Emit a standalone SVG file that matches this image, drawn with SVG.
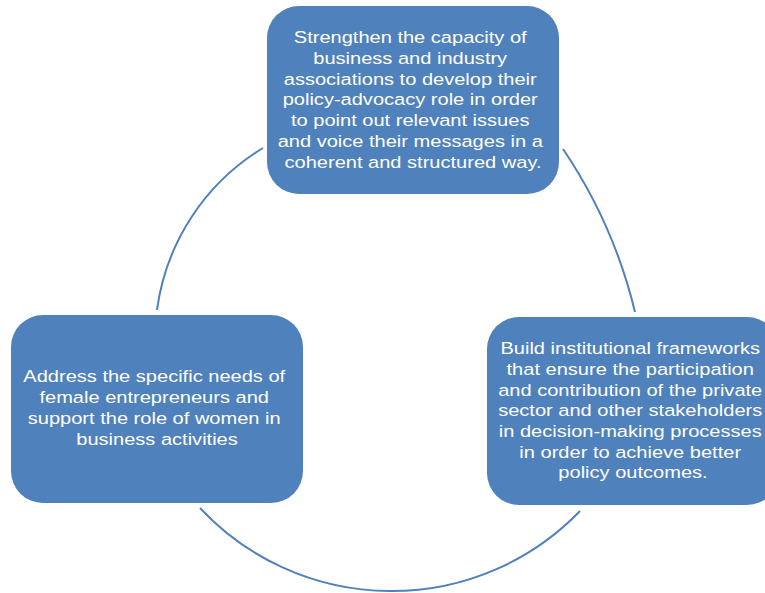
<svg xmlns="http://www.w3.org/2000/svg" width="765" height="593" viewBox="0 0 765 593">
  <style>
    .box { fill: #4F81BD; }
    .arc { fill: none; stroke: #4F81BD; stroke-width: 2; }
    .lbl { font-family: "Liberation Sans", Arial, sans-serif; font-size: 17px; fill: #FFFFFF; text-anchor: middle; }
  </style>
  <rect width="765" height="593" fill="#FFFFFF"/>

  <!-- cycle connectors -->
  <g id="connectors">
    <path class="arc" d="M 563 149 A 500 500 0 0 1 635 312"/>
    <path class="arc" d="M 580 511 A 262 262 0 0 1 200 508"/>
    <path class="arc" d="M 157 310 A 224 224 0 0 1 263 148"/>
  </g>

  <!-- top step -->
  <g id="node-associations">
    <rect class="box" x="267" y="6" width="292" height="188" rx="32" ry="32"/>
    <text class="lbl" transform="matrix(1.18 0 0 1 413 0)">
      <tspan x="0" y="43.3">Strengthen the capacity of</tspan>
      <tspan x="0" y="64">business and industry</tspan>
      <tspan x="0" y="84.8">associations to develop their</tspan>
      <tspan x="0" y="105.5">policy-advocacy role in order</tspan>
      <tspan x="0" y="126.2">to point out relevant issues</tspan>
      <tspan x="0" y="147">and voice their messages in a</tspan>
      <tspan x="0" y="167.7">coherent and structured way.</tspan>
    </text>
  </g>

  <!-- right step -->
  <g id="node-frameworks">
    <rect class="box" x="487" y="317" width="292" height="188" rx="32" ry="32"/>
    <text class="lbl" transform="matrix(1.18 0 0 1 633 0)">
      <tspan x="0" y="354.3">Build institutional frameworks</tspan>
      <tspan x="0" y="375">that ensure the participation</tspan>
      <tspan x="0" y="395.7">and contribution of the private</tspan>
      <tspan x="0" y="416.4">sector and other stakeholders</tspan>
      <tspan x="0" y="437.1">in decision-making processes</tspan>
      <tspan x="0" y="457.8">in order to achieve better</tspan>
      <tspan x="0" y="478.5">policy outcomes.</tspan>
    </text>
  </g>

  <!-- left step -->
  <g id="node-women">
    <rect class="box" x="11" y="315" width="292" height="188" rx="32" ry="32"/>
    <text class="lbl" transform="matrix(1.18 0 0 1 157 0)">
      <tspan x="0" y="382.3">Address the specific needs of</tspan>
      <tspan x="0" y="403.2">female entrepreneurs and</tspan>
      <tspan x="0" y="424.1">support the role of women in</tspan>
      <tspan x="0" y="445">business activities</tspan>
    </text>
  </g>
</svg>
